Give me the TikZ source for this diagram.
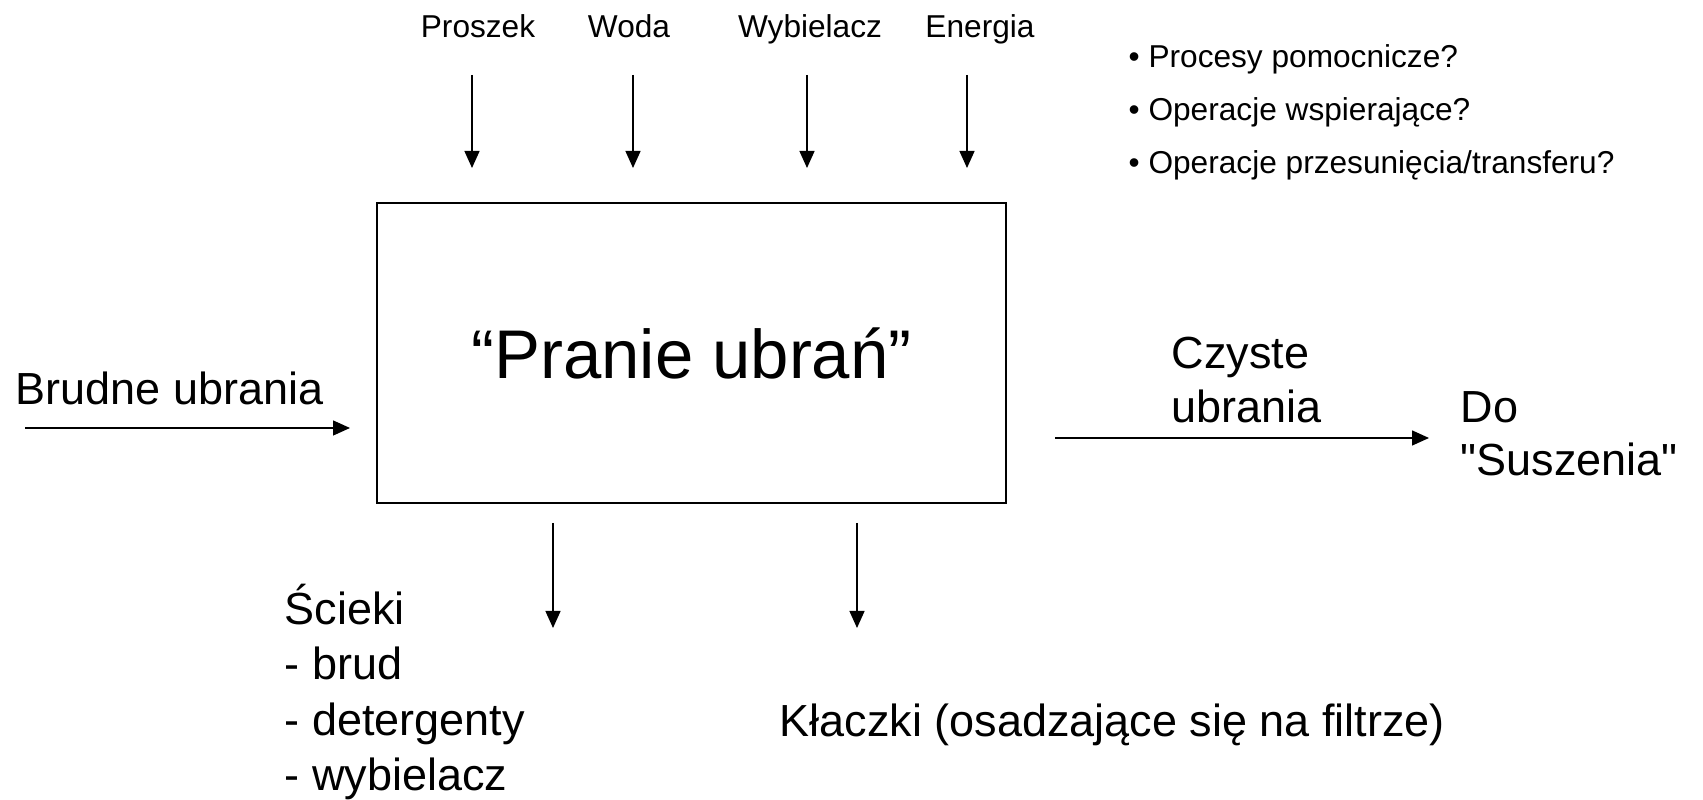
\documentclass[tikz,border=0pt]{standalone}
\usepackage{fontspec}
\setmainfont{Liberation Sans}
\newfontfamily\plainquote{Liberation Sans}
\usetikzlibrary{arrows.meta,positioning}

\begin{document}
\begin{tikzpicture}[x=1cm,y=1cm,
        flow/.style={-{Triangle[length=0.17cm,width=0.15cm]},line width=0.4pt},
        small/.style={font=\fontsize{9}{11}\selectfont,inner sep=0pt},
        txt/.style={font=\fontsize{12.8}{15.4}\selectfont,inner sep=0pt,anchor=base west}]
        \useasboundingbox (0,0) rectangle (17.03,8);
        % the process
        \node[draw,line width=0.6pt,minimum width=6.29cm,minimum height=3cm,inner sep=0pt,
              font=\fontsize{19.6}{23}\selectfont] (proc) at (6.915,4.47) {“Pranie ubrań”};
        % inputs from above
        \foreach \name/\lbl/\lx/\ax in {prosz/Proszek/4.78/4.72,woda/Woda/6.29/6.33,wyb/Wybielacz/8.10/8.07,ener/Energia/9.80/9.67} {
            \node[small,anchor=base] (\name) at (\lx,7.62) {\lbl};
            \coordinate (\name-a) at (\ax,7.25);
            \coordinate (\name-b) at (\ax,6.32);
            \draw[flow] (\name-a) -- (\name-b);
        }
        % questions
        \foreach \q/\y [count=\i] in {{Procesy pomocnicze?}/7.32,{Operacje wspierające?}/6.79,{Operacje przesunięcia/transferu?}/6.26} {
            \node[small,anchor=base west] (q\i) at (11.28,\y) {• \q};
        }
        % input and output
        \node[txt] (brudne) at (0.15,3.95) {Brudne ubrania};
        \coordinate (in-a) at (0.25,3.72);
        \coordinate (in-b) at (3.50,3.72);
        \draw[flow] (in-a) -- (in-b);
        \node[txt] (czyste) at (11.71,4.31) {Czyste};
        \node[txt] (czyste2) at (11.71,3.77) {ubrania};
        \coordinate (out-a) at (10.55,3.62);
        \coordinate (out-b) at (14.29,3.62);
        \draw[flow] (out-a) -- (out-b);
        \node[txt] (do) at (14.60,3.77) {Do};
        \node[txt] (do2) at (14.60,3.24) {\plainquote"Suszenia"};
        % waste
        \foreach \name/\ax in {scieki/5.53,klaczki/8.57} {
            \coordinate (\name-a) at (\ax,2.77);
            \coordinate (\name-b) at (\ax,1.72);
            \draw[flow] (\name-a) -- (\name-b);
        }
        \foreach \w/\y [count=\i] in {Ścieki/1.75,- brud/1.20,- detergenty/0.64,- wybielacz/0.09} {
            \node[txt] (sc\i) at (2.84,\y) {\w};
        }
        \node[txt] (klacz) at (7.79,0.63) {Kłaczki (osadzające się na filtrze)};
    \end{tikzpicture}
\end{document}
